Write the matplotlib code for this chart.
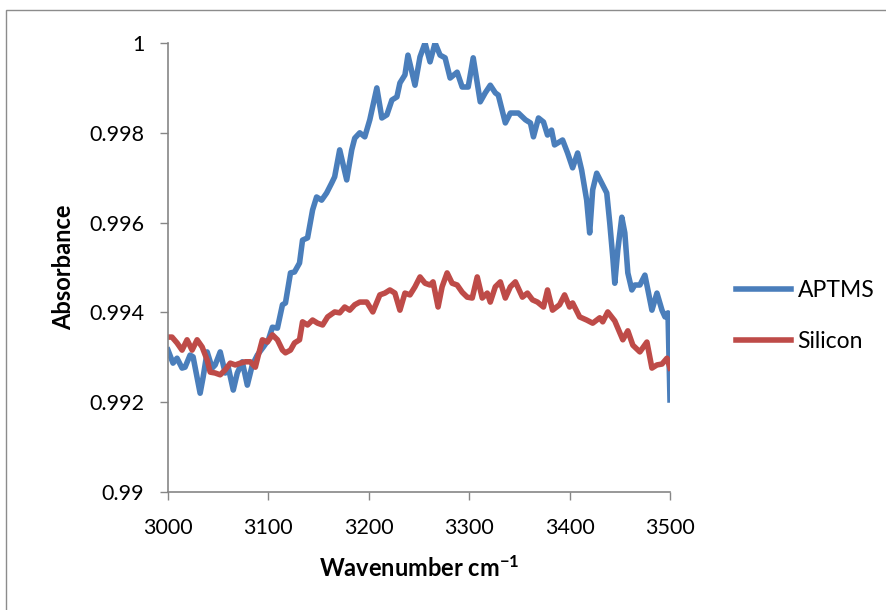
import matplotlib
matplotlib.use("Agg")
import matplotlib.pyplot as plt
from matplotlib.patches import Rectangle

# values
aptms_wn = [3000, 3005, 3009, 3014, 3017, 3022, 3025, 3032, 3035, 3039, 3044, 3047, 3052, 3057,
            3060, 3065, 3069, 3074, 3079, 3084, 3089, 3095, 3100, 3104, 3109, 3114, 3117, 3122,
            3126, 3131, 3134, 3139, 3144, 3148, 3153, 3158, 3163, 3166, 3171, 3178, 3183, 3186,
            3191, 3196, 3201, 3208, 3213, 3218, 3223, 3228, 3231, 3236, 3239, 3246, 3251, 3256,
            3261, 3266, 3271, 3276, 3281, 3288, 3293, 3299, 3304, 3311, 3316, 3321, 3326, 3329,
            3336, 3341, 3349, 3356, 3361, 3364, 3369, 3374, 3378, 3382, 3385, 3393, 3398, 3403,
            3408, 3412, 3417, 3420, 3423, 3427, 3432, 3437, 3440, 3443, 3445, 3448, 3452, 3455,
            3458, 3462, 3465, 3470, 3475, 3478, 3482, 3487, 3492, 3495, 3498, 3500]
aptms_abs = [0.99316, 0.99287, 0.99298, 0.99276, 0.99278, 0.99305, 0.99301, 0.99220, 0.99256,
             0.99312, 0.99276, 0.99283, 0.99312, 0.99265, 0.99278, 0.99227, 0.99265, 0.99290,
             0.99238, 0.99283, 0.99305, 0.99323, 0.99339, 0.99367, 0.99365, 0.99417, 0.99421,
             0.99488, 0.99490, 0.99510, 0.99561, 0.99566, 0.99628, 0.99657, 0.99650, 0.99666,
             0.99688, 0.99702, 0.99762, 0.99695, 0.99762, 0.99788, 0.99800, 0.99791, 0.99829,
             0.99900, 0.99833, 0.99840, 0.99873, 0.99880, 0.99911, 0.99929, 0.99973, 0.99906,
             0.99969, 1.00000, 0.99958, 1.00000, 0.99973, 0.99967, 0.99922, 0.99935, 0.99902,
             0.99902, 0.99967, 0.99869, 0.99889, 0.99906, 0.99889, 0.99884, 0.99822, 0.99844,
             0.99844, 0.99829, 0.99822, 0.99791, 0.99833, 0.99824, 0.99795, 0.99806, 0.99773,
             0.99784, 0.99755, 0.99722, 0.99755, 0.99717, 0.99650, 0.99577, 0.99673, 0.99710,
             0.99688, 0.99666, 0.99599, 0.99523, 0.99465, 0.99539, 0.99612, 0.99577, 0.99488,
             0.99450, 0.99461, 0.99461, 0.99483, 0.99450, 0.99405, 0.99443, 0.99405, 0.99390,
             0.99399, 0.99205]

silicon_wn = [3000, 3004, 3009, 3014, 3019, 3024, 3029, 3034, 3039, 3042, 3047, 3052, 3057, 3062,
              3067, 3072, 3077, 3082, 3087, 3090, 3094, 3099, 3104, 3109, 3114, 3117, 3122, 3126,
              3131, 3134, 3139, 3144, 3149, 3154, 3159, 3166, 3171, 3176, 3181, 3186, 3191, 3198,
              3204, 3211, 3216, 3221, 3226, 3231, 3236, 3241, 3246, 3251, 3256, 3261, 3264, 3269,
              3273, 3278, 3283, 3288, 3293, 3298, 3303, 3308, 3313, 3318, 3321, 3326, 3331, 3336,
              3341, 3346, 3353, 3358, 3363, 3368, 3374, 3378, 3383, 3390, 3395, 3400, 3403, 3410,
              3417, 3423, 3430, 3433, 3438, 3445, 3453, 3458, 3463, 3470, 3477, 3482, 3487, 3492,
              3497, 3500]
silicon_abs = [0.99345, 0.99345, 0.99332, 0.99316, 0.99339, 0.99316, 0.99339, 0.99323, 0.99294,
               0.99267, 0.99265, 0.99261, 0.99272, 0.99287, 0.99283, 0.99287, 0.99290, 0.99290,
               0.99278, 0.99305, 0.99339, 0.99334, 0.99350, 0.99339, 0.99316, 0.99310, 0.99316,
               0.99332, 0.99339, 0.99379, 0.99372, 0.99383, 0.99376, 0.99372, 0.99390, 0.99401,
               0.99399, 0.99412, 0.99405, 0.99417, 0.99423, 0.99423, 0.99401, 0.99439, 0.99443,
               0.99450, 0.99443, 0.99405, 0.99443, 0.99439, 0.99457, 0.99479, 0.99465, 0.99461,
               0.99468, 0.99412, 0.99457, 0.99488, 0.99465, 0.99461, 0.99445, 0.99434, 0.99432,
               0.99479, 0.99432, 0.99443, 0.99423, 0.99457, 0.99468, 0.99432, 0.99457, 0.99468,
               0.99434, 0.99443, 0.99428, 0.99423, 0.99412, 0.99450, 0.99405, 0.99417, 0.99439,
               0.99412, 0.99421, 0.99390, 0.99383, 0.99376, 0.99388, 0.99379, 0.99401, 0.99381,
               0.99339, 0.99359, 0.99327, 0.99312, 0.99334, 0.99276, 0.99283, 0.99285, 0.99298,
               0.99276]

x_ticks = [3000, 3100, 3200, 3300, 3400, 3500]
y_ticks = [0.99, 0.992, 0.994, 0.996, 0.998, 1.0]
y_tick_labels = ["0.99", "0.992", "0.994", "0.996", "0.998", "1"]

plt.rcParams['font.family'] = ['Lato', 'DejaVu Sans']
plt.rcParams['mathtext.fontset'] = 'custom'
plt.rcParams['mathtext.rm'] = 'Lato'
plt.rcParams['mathtext.bf'] = 'Lato:bold'
plt.rcParams['mathtext.default'] = 'bf'

fig = plt.figure(figsize=(8.86, 6.10), dpi=100)
# outer chart border
fig.patches.append(Rectangle((6 / 886, -0.1), 1.2, 1 - 10 / 610 + 0.1, transform=fig.transFigure,
                             fill=False, edgecolor='#8c8c8c', linewidth=1.0))

ax = fig.add_axes([168 / 886, 118 / 610, 502 / 886, 449 / 610])
ax.plot(aptms_wn, aptms_abs, color='#4A7EBB', lw=4, solid_joinstyle='round', label='APTMS')
ax.plot(silicon_wn, silicon_abs, color='#BE4B48', lw=4, solid_joinstyle='round', label='Silicon')

ax.set_xlim(3000, 3500)
ax.set_ylim(0.99, 1.0)
ax.set_xticks(x_ticks)
ax.set_yticks(y_ticks)
ax.set_yticklabels(y_tick_labels)
ax.tick_params(direction='out', length=6, width=1, color='#868686', labelsize=15.5)
ax.tick_params(axis='y', pad=11)
ax.tick_params(axis='x', pad=13)
for s in ['top', 'right']:
    ax.spines[s].set_visible(False)
for s in ['left', 'bottom']:
    ax.spines[s].set_color('#868686')
    ax.spines[s].set_linewidth(1.2)

ax.set_ylabel('Absorbance', fontsize=17, fontweight='bold', labelpad=10)
ax.set_xlabel(r'Wavenumber cm$^{-1}$', fontsize=17, fontweight='bold', labelpad=12)

fig.legend(loc='center left', bbox_to_anchor=(715 / 886, 1 - 316 / 610), frameon=False,
           fontsize=16.5, handlelength=2.4, handletextpad=0.3, labelspacing=1.3)

fig.savefig('out.png', dpi=100)
